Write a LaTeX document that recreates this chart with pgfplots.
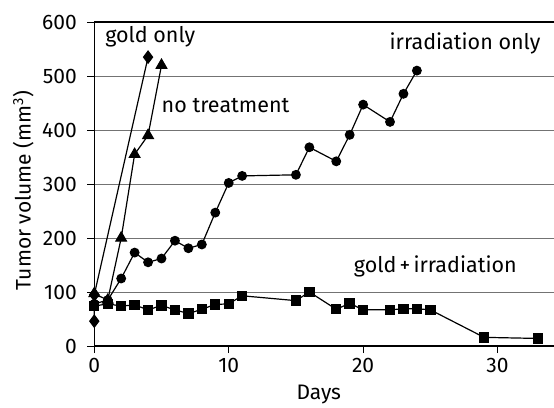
\documentclass[border=0pt]{standalone}
\usepackage{pgfplots}
\pgfplotsset{compat=1.18}
\usepackage{fontspec}
\setmainfont{Fira Sans}

\newcommand{\chartfont}{\fontsize{21}{25}\selectfont}
\newcommand{\notefont}{\fontsize{21.5}{25}\selectfont}

\begin{document}
\begin{tikzpicture}
\begin{axis}[
  scale only axis, width=459.7pt, height=324pt,
  xmin=0, xmax=34.2, ymin=0, ymax=600,
  axis x line*=bottom, axis y line*=left,
  axis line style={line width=1.3pt, -},
  xtick={0,10,20,30}, ytick={0,100,...,600},
  tick align=outside, major tick length=7pt,
  tick style={black, line width=1pt},
  ymajorgrids, grid style={black!55, line width=0.8pt},
  /pgf/number format/assume math mode=true,
  ticklabel style={font=\chartfont},
  xticklabel style={yshift=-2pt},
  yticklabel style={xshift=-7pt},
  clip=false,
  every axis plot/.append style={black, line width=1.2pt, mark options={solid, fill=black, draw=black}},
]
% closing line along the top of the frame
\draw[line width=1.3pt] (rel axis cs:0,1) -- (rel axis cs:1,1);

% gold + irradiation
\addplot[mark=square*, mark size=4.6pt] coordinates {
  (0,74)(1,78)(2,74)(3,76)(4,67)(5,75)(6,67)(7,60)(8,68)(9,77)(10,78)(11,93)
  (15,84)(16,100)(18,68)(19,79)(20,67)(22,67)(23,69)(24,69)(25,67)(29,16)(33,14)};

% irradiation only
\addplot[mark=*, mark size=4.3pt] coordinates {
  (0,78)(1,85)(2,125)(3,173)(4,155)(5,162)(6,195)(7,181)(8,188)(9,247)(10,302)(11,315)
  (15,317)(16,368)(18,342)(19,391)(20,447)(22,415)(23,467)(24,510)};

% gold only
\addplot[mark=diamond*, mark size=6pt] coordinates {(0,95)(0,46)(0,95)(4,535)};

% no treatment
\addplot[mark=triangle*, mark size=6pt] coordinates {
  (0,97)(1,85)(2,200)(3,355)(4,390)(5,520)};

\node[font=\notefont, anchor=west, inner sep=0pt] at (axis cs:0.8,572) {gold only};
\node[font=\notefont, anchor=west, inner sep=0pt] at (axis cs:5.0,446) {no treatment};
\node[font=\notefont, anchor=east, inner sep=0pt] at (axis cs:33.2,561) {irradiation only};
\node[font=\notefont, anchor=west, inner sep=0pt] at (axis cs:19.3,147) {gold\hspace{0.15em}+\hspace{0.15em}irradiation};

\node[font=\chartfont, rotate=90] at ([xshift=-71pt]rel axis cs:0,0.48) {Tumor volume (mm\textsuperscript{3})};
\node[font=\chartfont, anchor=base] at ([yshift=-53pt]axis cs:16.7,0) {Days};

\coordinate (sw) at (rel axis cs:0,0);
\coordinate (ne) at (rel axis cs:1,1);
\end{axis}
\pgfresetboundingbox
\path ([xshift=-94.3pt,yshift=-61pt]sw) rectangle ([yshift=22pt]ne);
\end{tikzpicture}
\end{document}
